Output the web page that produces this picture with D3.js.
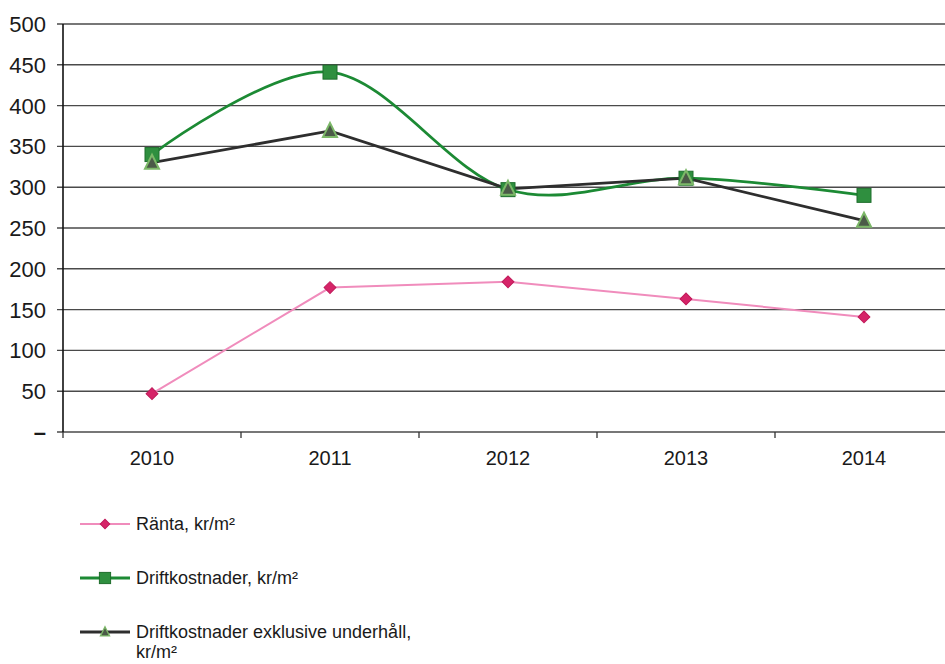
<!DOCTYPE html>
<html>
<head>
<meta charset="utf-8">
<title>Kostnader kr/m2</title>
<script src="https://d3js.org/d3.v7.min.js"></script>
<style>
  body { margin: 0; background: #fff; }
  text { font-family: "Liberation Sans", Arial, sans-serif; fill: #1a1a1a; }
</style>
</head>
<body>
<script>
// data
var years = ["2010", "2011", "2012", "2013", "2014"];
var ranta = [47, 177, 184, 163, 141];
var drift = [340, 441, 297, 311, 290];
var driftExkl = [330, 369, 298, 311, 259];
var yTicks = [0, 50, 100, 150, 200, 250, 300, 350, 400, 450, 500];
var seriesNames = ["Ränta, kr/m²", "Driftkostnader, kr/m²", "Driftkostnader exklusive underhåll, kr/m²"];

var W = 945, H = 664;
var plotLeft = 63, plotTop = 24, plotBottom = 432;

var svg = d3.select("body").append("svg")
    .attr("width", W).attr("height", H);

var x = d3.scaleBand().domain(years).range([plotLeft, plotLeft + 5 * 178]);
var y = d3.scaleLinear().domain([0, 500]).range([plotBottom, plotTop]);

// gridlines
svg.append("g").selectAll("line")
    .data(yTicks)
    .enter().append("line")
    .attr("x1", plotLeft - 6).attr("x2", W)
    .attr("y1", function(d) { return y(d); })
    .attr("y2", function(d) { return y(d); })
    .attr("stroke", "#4a4a4a")
    .attr("stroke-width", 1.4);

// y labels (0 shown as a dash)
svg.append("g").selectAll("text")
    .data(yTicks)
    .enter().append("text")
    .attr("x", 46)
    .attr("y", function(d) { return y(d); })
    .attr("dy", "0.36em")
    .attr("text-anchor", "end")
    .style("font-size", "22px")
    .style("font-weight", function(d) { return d === 0 ? "bold" : "normal"; })
    .text(function(d) { return d === 0 ? "–" : d; });

// y axis line
svg.append("line")
    .attr("x1", plotLeft).attr("x2", plotLeft)
    .attr("y1", plotTop).attr("y2", plotBottom)
    .attr("stroke", "#111").attr("stroke-width", 1.6);

// x labels
var xAxis = d3.axisBottom(x).tickSize(0).tickFormat(function(d) { return d; });
var gx = svg.append("g")
    .attr("transform", "translate(0," + plotBottom + ")")
    .call(xAxis);
gx.select(".domain").remove();
gx.selectAll("text")
    .attr("dy", 0).attr("y", 33)
    .style("font-size", "20px")
    .style("font-family", "'Liberation Sans', Arial, sans-serif")
    .attr("fill", "#1a1a1a");

// x ticks between categories
svg.append("g").selectAll("line")
    .data(years)
    .enter().append("line")
    .attr("x1", function(d) { return x(d); })
    .attr("x2", function(d) { return x(d); })
    .attr("y1", plotBottom).attr("y2", plotBottom + 6)
    .attr("stroke", "#333").attr("stroke-width", 1.3);

var cx = function(d, i) { return x(years[i]) + x.bandwidth() / 2; };

// lines
var straight = d3.line().x(function(d, i) { return cx(d, i); }).y(function(d) { return y(d); });
var smooth = d3.line().x(function(d, i) { return cx(d, i); }).y(function(d) { return y(d); })
    .curve(d3.curveCardinal.tension(0));

svg.append("path").datum(ranta)
    .attr("d", straight).attr("fill", "none")
    .attr("stroke", "#f08cbc").attr("stroke-width", 2);

svg.append("path").datum(drift)
    .attr("d", smooth).attr("fill", "none")
    .attr("stroke", "#1c8a34").attr("stroke-width", 2.8);

svg.append("path").datum(driftExkl)
    .attr("d", straight).attr("fill", "none")
    .attr("stroke", "#2e2e2e").attr("stroke-width", 2.8);

// marker helpers
function diamond(g, px, py, s) {
    g.append("path")
        .attr("d", d3.symbol().type(d3.symbolSquare).size(70 * s * s)())
        .attr("transform", "translate(" + px + "," + py + ") rotate(45)")
        .attr("fill", "#d62468").attr("stroke", "#c01a5a").attr("stroke-width", 1);
}
function square(g, px, py, s) {
    var h = 7 * s;
    g.append("rect")
        .attr("x", px - h).attr("y", py - h)
        .attr("width", 2 * h).attr("height", 2 * h)
        .attr("fill", "#2f8f3f").attr("stroke", "#1e6e2c").attr("stroke-width", 1);
}
function triangle(g, px, py, s) {
    g.append("path")
        .attr("d", "M" + px + "," + (py - 8 * s) + "L" + (px + 7 * s) + "," + (py + 6 * s) + "L" + (px - 7 * s) + "," + (py + 6 * s) + "Z")
        .attr("fill", "#4b5a48").attr("stroke", "#7cb868").attr("stroke-width", 2 * s);
}

var mk = svg.append("g");
ranta.forEach(function(d, i) { diamond(mk, cx(d, i), y(d), 1); });
drift.forEach(function(d, i) { square(mk, cx(d, i), y(d), 1); });
driftExkl.forEach(function(d, i) { triangle(mk, cx(d, i), y(d), 1); });

// legend
var legY = [524, 578, 632];
var legColors = ["#f08cbc", "#1c8a34", "#2e2e2e"];
var leg = svg.append("g");
legY.forEach(function(ly, i) {
    leg.append("line")
        .attr("x1", 80).attr("x2", 130)
        .attr("y1", ly).attr("y2", ly)
        .attr("stroke", legColors[i]).attr("stroke-width", i === 0 ? 2 : 2.8);
    if (i === 0) diamond(leg, 105, ly, 0.8);
    if (i === 1) square(leg, 105, ly, 0.8);
    if (i === 2) triangle(leg, 105, ly, 0.65);
});
leg.append("text").attr("x", 136).attr("y", legY[0]).attr("dy", "0.35em")
    .style("font-size", "18px").text(seriesNames[0]);
leg.append("text").attr("x", 136).attr("y", legY[1]).attr("dy", "0.35em")
    .style("font-size", "18px").text(seriesNames[1]);
var t3 = leg.append("text").attr("x", 136).attr("y", legY[2]).attr("dy", "0.35em")
    .style("font-size", "18px");
t3.append("tspan").attr("x", 136).text("Driftkostnader exklusive underhåll,");
t3.append("tspan").attr("x", 136).attr("dy", "1.1em").text("kr/m²");
</script>
</body>
</html>
